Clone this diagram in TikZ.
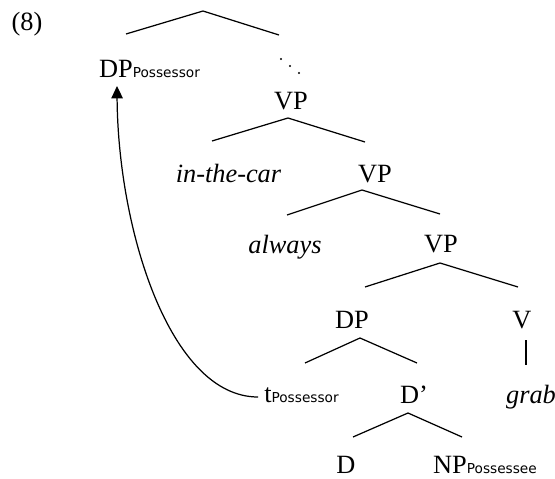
\documentclass[tikz,border=0pt]{standalone}
\usepackage{fontspec}
\setmainfont{Liberation Serif}
\newfontfamily\subfont{DejaVu Sans}
\usetikzlibrary{arrows.meta}
\tikzstyle{w} = [anchor=base, font=\fontsize{15}{18}\selectfont]
\tikzstyle{br} = [line width=0.7pt]
\newcommand{\sbs}[1]{{\fontsize{7.8}{9}\subfont #1}}

\begin{document}
\begin{tikzpicture}[x=0.02cm,y=0.02cm]
\useasboundingbox (0,0) rectangle (555,478);
			\node[w](ex) at (27,448){(8)};
			\node[w](dpposs) at (149.5,401){DP\sbs{Possessor}};
			\node[w](vp1) at (291,369){VP};
			\node[w](car) at (228.5,296){\textit{in-the-car}};
			\node[w](vp2) at (375,296){VP};
			\node[w](alw) at (285,225){\textit{always}};
			\node[w](vp3) at (441,226){VP};
			\node[w](dp) at (352,150){DP};
			\node[w](v) at (522,150){V};
			\node[w](tposs) at (301.5,76){t\sbs{Possessor}};
			\node[w](dbar) at (414,75){D'};
			\node[w](grab) at (531,75){\textit{grab}};
			\node[w](d) at (346,5){D};
			\node[w](npposs) at (485,5){NP\sbs{Possessee}};

			% branches
			\coordinate (ta) at (203,467); \coordinate (tl) at (126,444); \coordinate (tr) at (279,443);
			\coordinate (v1a) at (288,360); \coordinate (v1l) at (212,337); \coordinate (v1r) at (365,336);
			\coordinate (v2a) at (362,288); \coordinate (v2l) at (287,263); \coordinate (v2r) at (440,264);
			\coordinate (v3a) at (440,215); \coordinate (v3l) at (365,191); \coordinate (v3r) at (518,191);
			\coordinate (dpa) at (360,140); \coordinate (dpl) at (305,115); \coordinate (dpr) at (417,115);
			\coordinate (da) at (408,65); \coordinate (dl) at (353,41); \coordinate (dr) at (462,41);
			\coordinate (vt) at (526,138); \coordinate (vb) at (526,113);
			\coordinate (tip) at (117,392);

			\draw[br] (tl)--(ta)--(tr);
			\draw[br] (v1l)--(v1a)--(v1r);
			\draw[br] (v2l)--(v2a)--(v2r);
			\draw[br] (v3l)--(v3a)--(v3r);
			\draw[br] (dpl)--(dpa)--(dpr);
			\draw[br] (dl)--(da)--(dr);
			\draw[br] (vt)--(vb);
			\foreach \p in {(281,419),(290,412),(299,405)} \fill \p circle (0.7pt);

			% movement
			\draw[br,-{Triangle[length=7pt,width=6.5pt]}] ([yshift=0.1cm]tposs.base west) .. controls (170,81) and (118,248) .. (tip);
\end{tikzpicture}
\end{document}
